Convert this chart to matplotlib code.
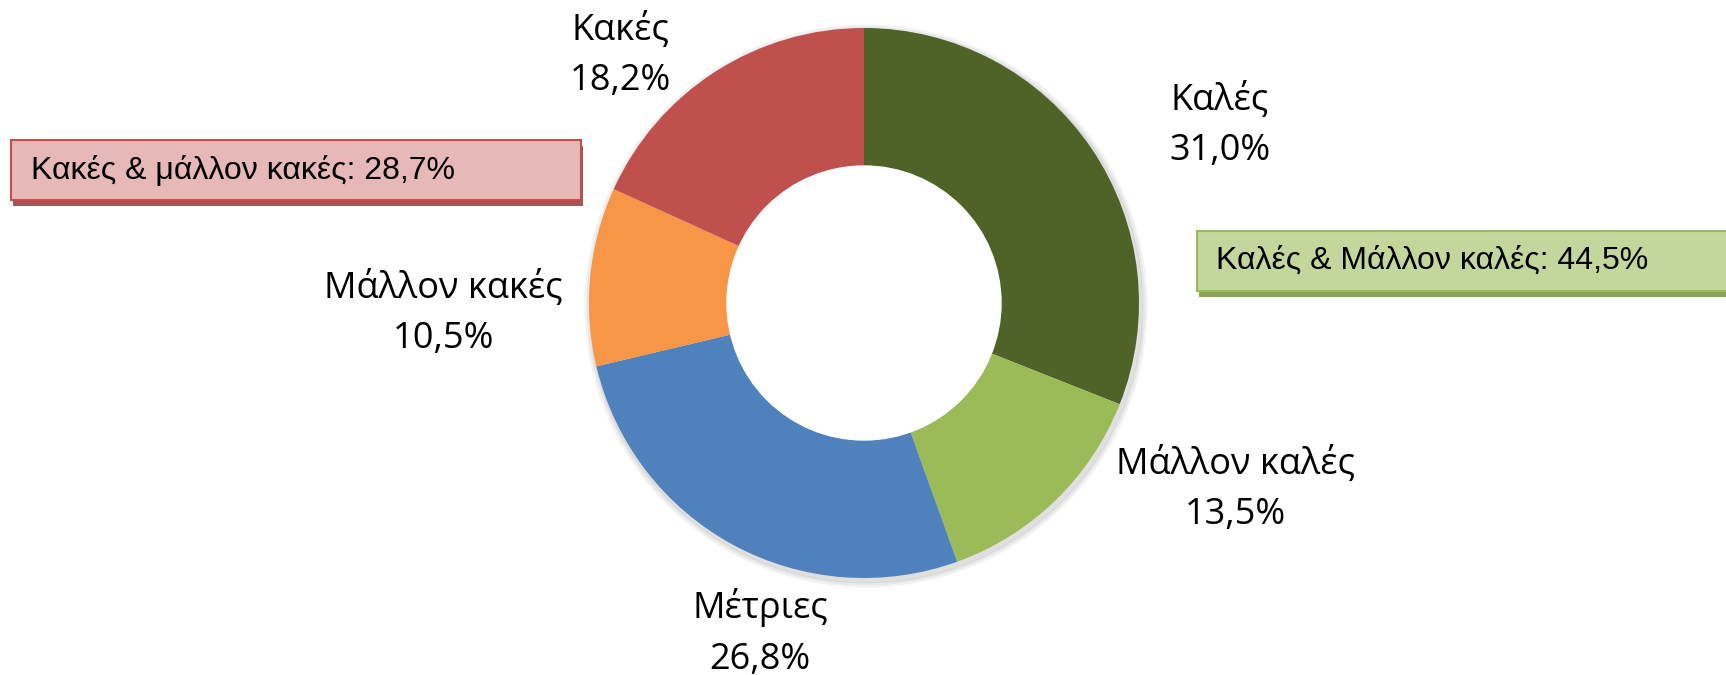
import matplotlib
matplotlib.use("Agg")
import matplotlib.pyplot as plt
from matplotlib.patches import Rectangle, Circle

# data
labels = ["Καλές", "Μάλλον καλές", "Μέτριες", "Μάλλον κακές", "Κακές"]
values = [31.0, 13.5, 26.8, 10.5, 18.2]
colors = ["#4F6228", "#9BBB59", "#4F81BD", "#F79646", "#C0504D"]

good_total = values[0] + values[1]
bad_total = values[3] + values[4]


def fmt(v):
    return f"{v:.1f}".replace(".", ",") + "%"


W, H = 1726, 675
fig = plt.figure(figsize=(W / 100, H / 100), dpi=100)
ax = fig.add_axes([0, 0, 1, 1])

cx, cy = 864, H - 303
R = 275
ring = 138

# soft shadow behind the ring
for i, a in enumerate([0.05, 0.04, 0.03]):
    ax.add_patch(Circle((cx + 2, cy - 3), R + 2 + i * 2, color="black", alpha=a, zorder=0))

ax.pie(values, colors=colors, center=(cx, cy), radius=R, startangle=90,
       counterclock=False, wedgeprops=dict(width=ring, linewidth=0))

ax.add_patch(Circle((cx, cy), R - ring, color="white", zorder=4))

# slice labels (position in pixel coords, from top)
label_pos = [(1220, 125), (1235, 489), (760, 633), (443, 313), (620, 55)]
for name, v, (x, y) in zip(labels, values, label_pos):
    ax.text(x, H - y, name + "\n" + fmt(v), ha="center", va="center",
            fontsize=26, family="Open Sans", linespacing=1.52, zorder=5)

# summary boxes
def summary_box(x0, y0, x1, y1, face, edge, shadow, text, tx):
    ax.add_patch(Rectangle((x0 + 2, H - y1 - 6), x1 - x0, y1 - y0,
                           facecolor=shadow, edgecolor="none", alpha=0.85, zorder=5))
    ax.add_patch(Rectangle((x0, H - y1), x1 - x0, y1 - y0,
                           facecolor=face, edgecolor=edge, linewidth=1.5, zorder=6))
    ax.text(tx, H - (y0 + y1) / 2, text, ha="left", va="center",
            fontsize=23, family="Liberation Sans", zorder=7)


summary_box(11, 140, 581, 200, "#E6B9B8", "#C0504D", "#953735",
            "Κακές & μάλλον κακές: " + fmt(bad_total), 31)
summary_box(1197, 231, 1740, 291, "#C3D69B", "#9BBB59", "#77933C",
            "Καλές & Μάλλον καλές: " + fmt(good_total), 1216)

ax.set_xlim(0, W)
ax.set_ylim(0, H)
ax.set_aspect("equal")
ax.axis("off")

fig.savefig("out.png", dpi=100)
